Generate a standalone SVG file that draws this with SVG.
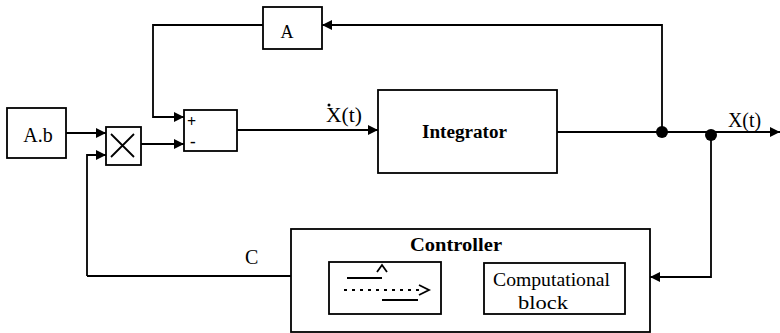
<svg xmlns="http://www.w3.org/2000/svg" width="780" height="333" viewBox="0 0 780 333">
<style>
.box{fill:#fff;stroke:#000;stroke-width:1.8}
.ln{fill:none;stroke:#000;stroke-width:1.8}
text{font-family:"Liberation Serif","Times New Roman","DejaVu Serif",serif;fill:#000}
.b{font-weight:bold}
</style>
<defs>
<marker id="ah" viewBox="0 0 10 10" refX="10" refY="5" markerWidth="12" markerHeight="10" markerUnits="userSpaceOnUse" orient="auto">
<path d="M0,0 L10,5 L0,10 Z" fill="#000"/>
</marker>
</defs>
<rect width="780" height="333" fill="#fff"/>
<g id="connectors">
<path class="ln" d="M66,133 H106" marker-end="url(#ah)"/>
<path class="ln" d="M87,276 V155 H106" marker-end="url(#ah)"/>
<path class="ln" d="M141,144 H184" marker-end="url(#ah)"/>
<path class="ln" d="M263,25 H153 V117 H184" marker-end="url(#ah)"/>
<path class="ln" d="M237,130 H378" marker-end="url(#ah)"/>
<path class="ln" d="M557,132 H780" marker-end="url(#ah)"/>
<path class="ln" d="M662,132 V25 H322" marker-end="url(#ah)"/>
<path class="ln" d="M711,135 V277 H650" marker-end="url(#ah)"/>
<path class="ln" d="M291,276 H87"/>
<path class="ln" d="M484,278 H441" marker-end="url(#ah)"/>
<circle cx="662" cy="132" r="6" fill="#000"/>
<circle cx="711" cy="135" r="6" fill="#000"/>
<text x="326" y="122" font-size="20" textLength="36" lengthAdjust="spacingAndGlyphs">X(t)</text>
<circle cx="329" cy="105" r="1.5" fill="#000"/>
<text x="728" y="127" font-size="20" textLength="33" lengthAdjust="spacingAndGlyphs">X(t)</text>
<text x="245" y="264" font-size="20">C</text>
</g>
<g id="Ab">
<rect class="box" x="7" y="108" width="59" height="50"/>
<text x="38" y="142" font-size="20" text-anchor="middle">A.b</text>
</g>
<g id="mult">
<rect class="box" x="106" y="127" width="35" height="38"/>
<path class="ln" d="M111,134 L134,157 M134,134 L111,157"/>
</g>
<g id="sum">
<rect class="box" x="184" y="110" width="53" height="41"/>
<text x="187" y="127" font-size="16" font-weight="bold">+</text>
<text x="190" y="147" font-size="17" font-weight="bold">-</text>
</g>
<g id="A">
<rect class="box" x="263" y="7" width="59" height="42"/>
<text x="287" y="38" font-size="18" text-anchor="middle">A</text>
</g>
<g id="integrator">
<rect class="box" x="378" y="90" width="179" height="83"/>
<text class="b" x="422" y="138" font-size="18" textLength="85" lengthAdjust="spacingAndGlyphs">Integrator</text>
</g>
<g id="controller">
<rect class="box" x="291" y="229" width="359" height="103"/>
<text class="b" x="410" y="251" font-size="18" textLength="92" lengthAdjust="spacingAndGlyphs">Controller</text>
</g>
<g id="inner">
<rect class="box" x="329" y="262" width="112" height="52"/>
<path class="ln" d="M347,278 H382"/>
<path class="ln" stroke-width="2.2" d="M377,272 L382,265 L387,272"/>
<path class="ln" stroke-width="1.3" stroke-dasharray="3,5" d="M344,290 H424"/>
<path class="ln" stroke-width="2.2" d="M419,285 L429,290 L419,295"/>
<path class="ln" d="M382,300 H418"/>
</g>
<g id="comp">
<rect class="box" x="484" y="263" width="141" height="51"/>
<text x="493" y="286" font-size="19" textLength="117" lengthAdjust="spacingAndGlyphs">Computational</text>
<text x="518" y="309" font-size="19" textLength="50" lengthAdjust="spacingAndGlyphs">block</text>
</g>
</svg>
